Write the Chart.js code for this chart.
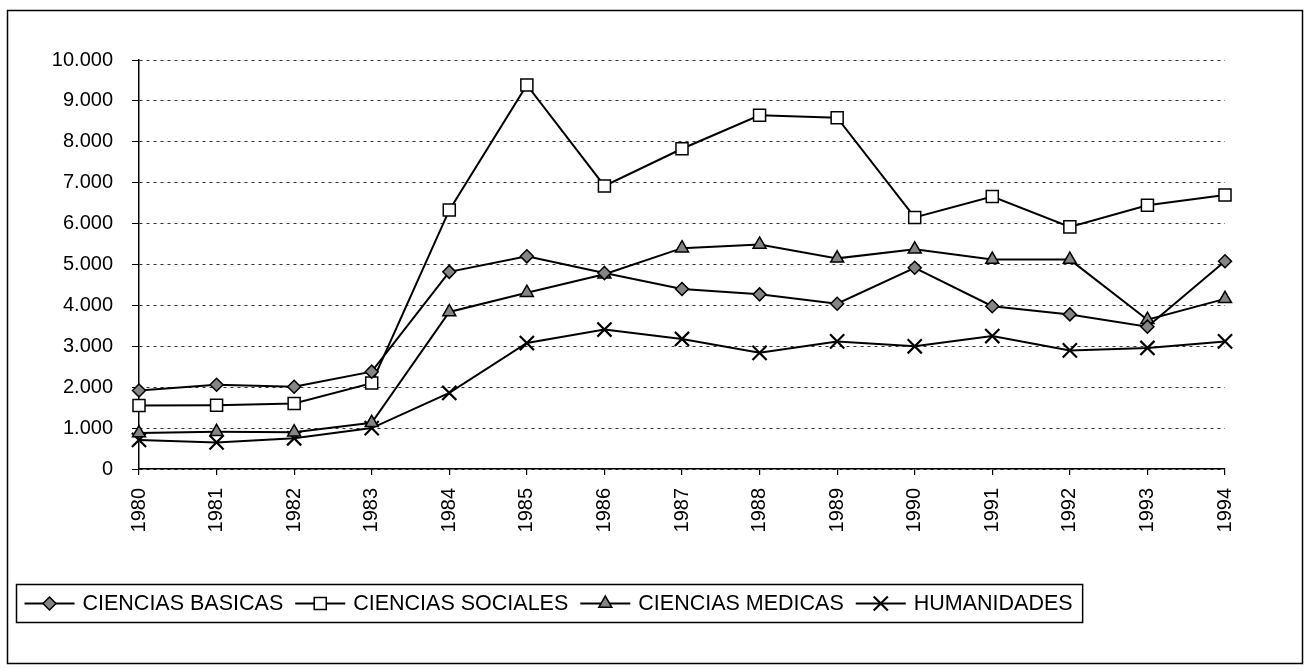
<!DOCTYPE html>
<html>
<head>
<meta charset="utf-8">
<script src="https://cdn.jsdelivr.net/npm/chart.js@4.4.0/dist/chart.umd.min.js"></script>
<style>
  html, body { margin: 0; padding: 0; background: #fff; }
  #wrap { width: 1308px; height: 671px; }
</style>
</head>
<body>
<div id="wrap"><canvas id="chart" width="1308" height="671"></canvas></div>
<script>
// data
const years = ['1980', '1981', '1982', '1983', '1984', '1985', '1986', '1987',
               '1988', '1989', '1990', '1991', '1992', '1993', '1994'];
const basicas     = [1920, 2060, 2010, 2380, 4820, 5200, 4790, 4400, 4270, 4040, 4920, 3980, 3780, 3480, 5080];
const sociales    = [1550, 1560, 1600, 2100, 6330, 9390, 6920, 7830, 8650, 8590, 6150, 6660, 5920, 6450, 6700];
const medicas     = [ 880,  910,  900, 1130, 3840, 4310, 4760, 5400, 5490, 5150, 5370, 5120, 5120, 3650, 4160];
const humanidades = [ 710,  650,  750, 1000, 1860, 3080, 3410, 3180, 2840, 3120, 3000, 3250, 2900, 2960, 3120];
const seriesNames = ['CIENCIAS BASICAS', 'CIENCIAS SOCIALES', 'CIENCIAS MEDICAS', 'HUMANIDADES'];
const yTickLabels = ['0', '1.000', '2.000', '3.000', '4.000', '5.000',
                     '6.000', '7.000', '8.000', '9.000', '10.000'];

const FONT = "'Liberation Sans', Arial, sans-serif";
const GRAY = '#858585';

function series(label, data, style, radius, fill) {
  return {
    label: label,
    data: data,
    borderColor: '#000',
    borderWidth: 2,
    tension: 0,
    pointStyle: style,
    pointRadius: radius,
    pointHoverRadius: radius,
    pointBackgroundColor: fill,
    pointBorderColor: '#000',
    pointBorderWidth: style === 'crossRot' ? 2.2 : 1.5
  };
}

// frame round the whole figure + boxed legend with line/marker swatches
const framePlugin = {
  id: 'frameAndLegend',
  afterDraw(chart) {
    const ctx = chart.ctx;
    ctx.save();
    ctx.strokeStyle = '#000';
    ctx.lineWidth = 1.5;
    ctx.strokeRect(7.5, 10.5, 1295, 653);

    const box = { x: 16.5, y: 584.5, h: 38 };
    ctx.font = '21.5px ' + FONT;
    ctx.textBaseline = 'middle';
    const cy = box.y + box.h / 2;
    let x = box.x + 8;
    chart.data.datasets.forEach(ds => {
      ctx.strokeStyle = '#000';
      ctx.lineWidth = 2;
      ctx.beginPath();
      ctx.moveTo(x, cy);
      ctx.lineTo(x + 50, cy);
      ctx.stroke();
      ctx.fillStyle = ds.pointBackgroundColor;
      ctx.lineWidth = ds.pointBorderWidth;
      Chart.helpers.drawPoint(ctx, {
        pointStyle: ds.pointStyle, radius: ds.pointRadius,
        rotation: 0, borderWidth: ds.pointBorderWidth
      }, x + 25, cy);
      ctx.fillStyle = '#000';
      ctx.fillText(ds.label, x + 58, cy + 1);
      x += 58 + ctx.measureText(ds.label).width + 12;
    });
    ctx.lineWidth = 1.5;
    ctx.strokeRect(box.x, box.y, x - 2 - box.x, box.h);
    ctx.restore();
  }
};

new Chart(document.getElementById('chart'), {
  type: 'line',
  data: {
    labels: years,
    datasets: [
      series(seriesNames[0], basicas, 'rectRot', 6.5, GRAY),
      series(seriesNames[1], sociales, 'rect', 8.5, '#fff'),
      series(seriesNames[2], medicas, 'triangle', 7.5, GRAY),
      series(seriesNames[3], humanidades, 'crossRot', 10, '#000')
    ]
  },
  options: {
    responsive: false,
    animation: false,
    devicePixelRatio: 1,
    layout: { padding: { top: 60, right: 83, left: 0, bottom: 0 } },
    plugins: {
      legend: { display: false },
      tooltip: { enabled: false }
    },
    scales: {
      x: {
        offset: false,
        afterFit: s => { s.height = 202; },
        grid: { drawOnChartArea: false, color: '#000', tickLength: 6, lineWidth: 1.2 },
        border: { color: '#000', width: 1.5 },
        ticks: {
          autoSkip: false, maxRotation: 90, minRotation: 90, padding: 13,
          color: '#000', font: { family: FONT, size: 20 }
        }
      },
      y: {
        min: 0,
        max: 10000,
        afterFit: s => { s.width = 139; },
        grid: { color: '#333', lineWidth: 1, tickColor: '#000', tickLength: 7 },
        border: { color: '#000', width: 1.5, dash: [3, 4] },
        ticks: {
          stepSize: 1000, padding: 19, color: '#000',
          font: { family: FONT, size: 20 },
          callback: v => yTickLabels[Math.round(v / 1000)]
        }
      }
    }
  },
  plugins: [framePlugin]
});
</script>
</body>
</html>
